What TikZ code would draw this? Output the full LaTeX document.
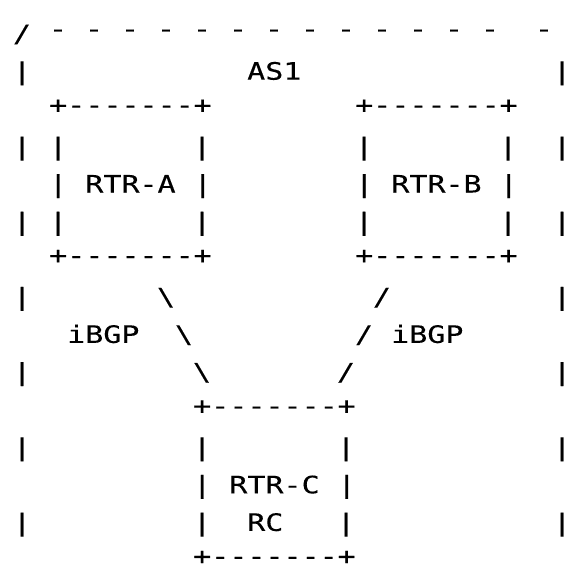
\documentclass[tikz,border=0pt]{standalone}
\usepackage{fontspec}
\usepackage{tikz}
\newfontfamily\asciifont[FakeStretch=1.25,FakeBold=0.2]{DejaVu Sans Mono}

\begin{document}
\begin{tikzpicture}[
  x=18pt, y=-37.6pt,
  ch/.style={inner sep=0pt, anchor=base, font=\asciifont\fontsize{24}{28}\selectfont},
  run/.style={ch, anchor=base west},
  boxedge/.style={yshift=4pt},
  rimdash/.style={yshift=5pt}
]
  \useasboundingbox (-22pt,4.5pt) rectangle (551pt,-568.5pt);

  % AS boundary, top row and sides
  \node[ch] (rim) at (0,1) {/};
  \foreach \c in {2,4,...,26,29}
    \node[ch, rimdash] (rim-\c) at (\c,1) {-};
  \node[ch] (bar-2-0) at (0,2) {|};
  \node[run] (as1) at (12.5,2) {AS1};
  \node[ch] (bar-2-30) at (30,2) {|};

  % RTR-A and RTR-B
  \node[run, boxedge] (atop) at (1.5,3) {+-------+};
  \node[run, boxedge] (btop) at (18.5,3) {+-------+};
  \foreach \r in {4,6}
    \foreach \c in {0,2,10,19,27,30}
      \node[ch] (bar-\r-\c) at (\c,\r) {|};
  \node[run] (rtra) at (1.5,5) {| RTR-A |};
  \node[run] (rtrb) at (18.5,5) {| RTR-B |};
  \node[run, boxedge] (abot) at (1.5,7) {+-------+};
  \node[run, boxedge] (bbot) at (18.5,7) {+-------+};

  % iBGP sessions
  \node[ch] (bar-8-0) at (0,8) {|};
  \node[ch] (ac1) at (8,8) {\textbackslash};
  \node[ch] (bc1) at (20,8) {/};
  \node[ch] (bar-8-30) at (30,8) {|};
  \node[run] (ibgpa) at (2.5,9) {iBGP};
  \node[ch] (ac2) at (9,9) {\textbackslash};
  \node[ch] (bc2) at (19,9) {/};
  \node[run] (ibgpb) at (20.5,9) {iBGP};
  \node[ch] (bar-10-0) at (0,10) {|};
  \node[ch] (ac3) at (10,10) {\textbackslash};
  \node[ch] (bc3) at (18,10) {/};
  \node[ch] (bar-10-30) at (30,10) {|};

  % RTR-C, the route reflector
  \node[run, boxedge] (ctop) at (9.5,11) {+-------+};
  \foreach \r in {12,14}
    \foreach \c in {0,10,18,30}
      \node[ch] (bar-\r-\c) at (\c,\r) {|};
  \node[run] (rtrc) at (9.5,13) {| RTR-C |};
  \node[run] (rc) at (12.5,14) {RC};
  \node[run, boxedge] (cbot) at (9.5,15) {+-------+};
\end{tikzpicture}
\end{document}
